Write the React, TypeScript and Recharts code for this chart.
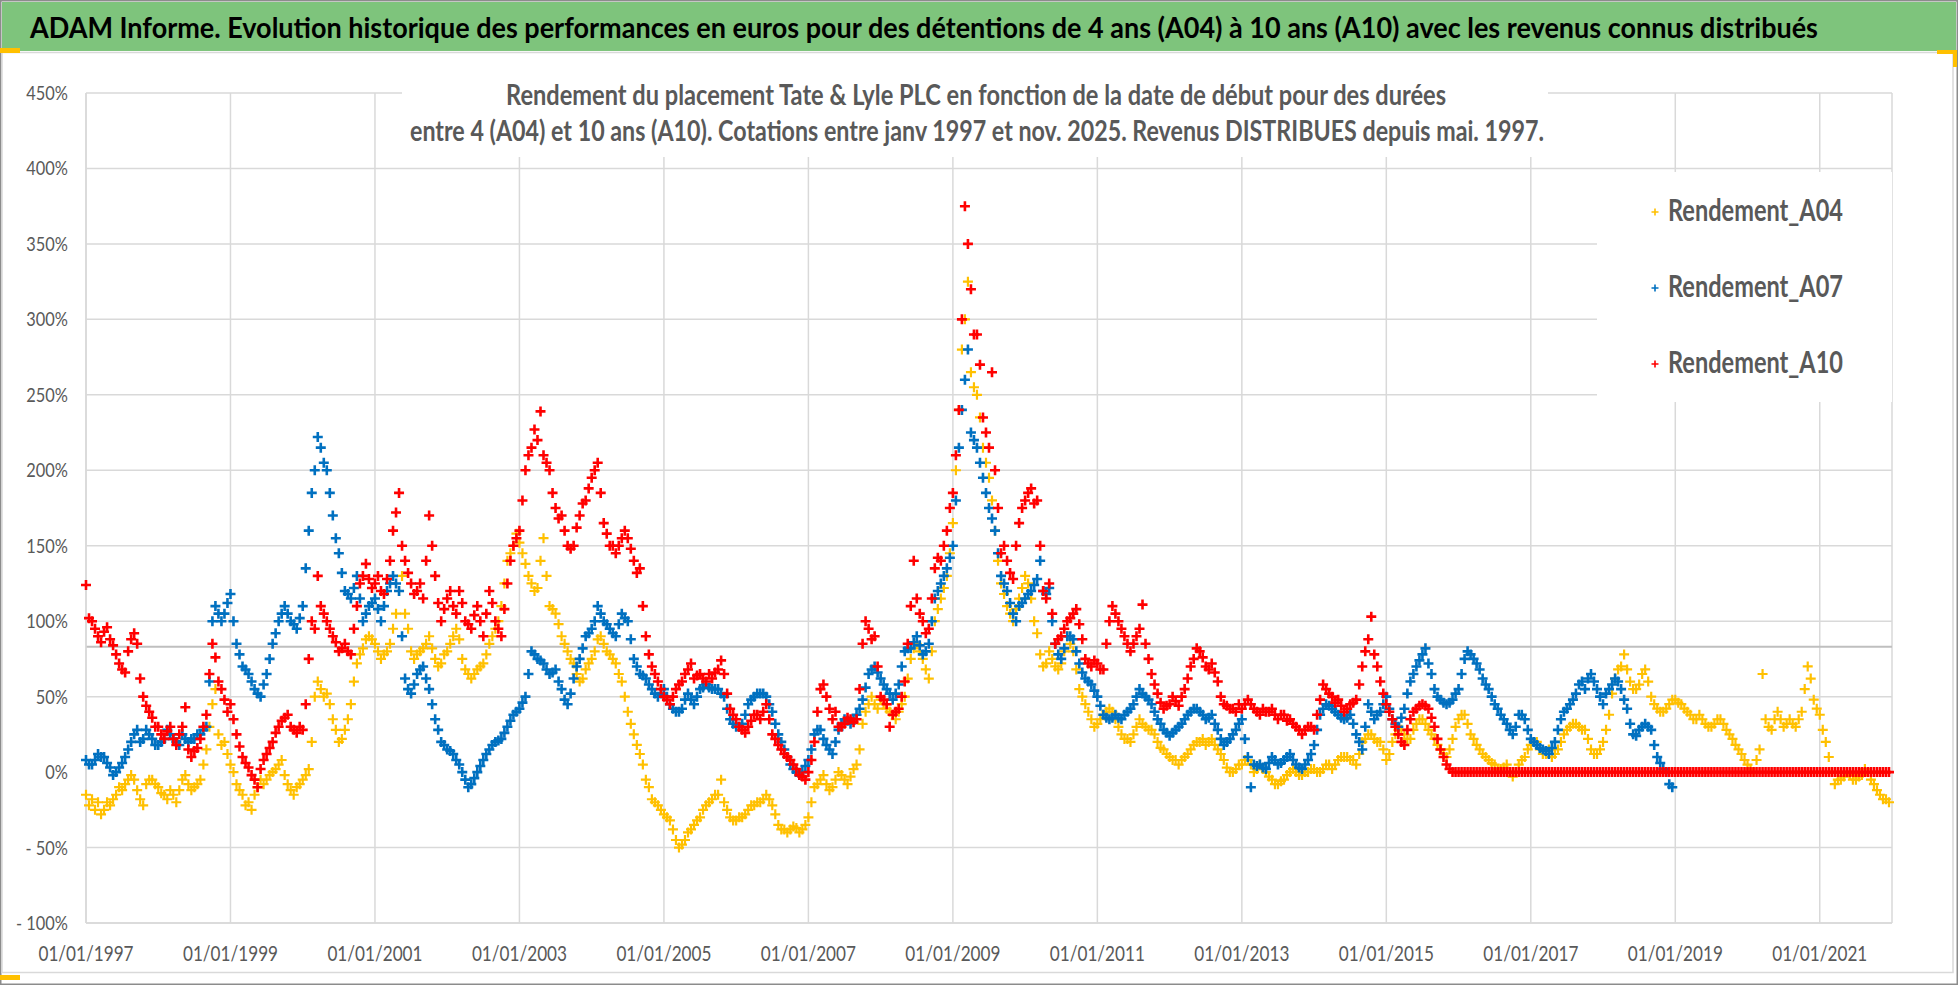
import React from 'react';
import { ScatterChart, Scatter, XAxis, YAxis, CartesianGrid, ReferenceLine, Legend } from 'recharts';

// Readings from 01/1997, one at the start and one in the middle of each month, values in %
const START_YEAR = 1997;
const X_TICKS = [1997, 1999, 2001, 2003, 2005, 2007, 2009, 2011, 2013, 2015, 2017, 2019, 2021];
const Y_TICKS = [-100, -50, 0, 50, 100, 150, 200, 250, 300, 350, 400, 450];
const GRID_VALUES = [-100, -50, 50, 100, 150, 200, 250, 300, 350, 400, 450];
const AXIS_CROSS_VALUE = 83;

const RENDEMENT_A04 = [
  -15, -18, -20, -25, -22, -15, -12, -5, -5, -18, -8, -5,
  -10, -15, -12, -20, -5, -8, -10, -5, 15, 45, 25, 20,
  5, -8, -15, -20, -15, -5, -5, 0, 5, -2, -12, -10,
  -5, 2, 50, 55, 52, 35, 20, 28, 45, 72, 82, 90,
  85, 75, 80, 95, 120, 105, 80, 78, 82, 90, 75, 72,
  80, 90, 88, 68, 62, 68, 72, 85, 95, 110, 140, 150,
  152, 138, 125, 122, 155, 110, 105, 90, 80, 72, 60, 68,
  75, 88, 85, 78, 72, 60, 40, 25, 12, -5, -18, -22,
  -28, -32, -45, -48, -40, -35, -30, -22, -18, -15, -20, -30,
  -32, -30, -25, -22, -20, -15, -22, -35, -38, -38, -37, -38,
  -30, -10, -5, -8, -10, 0, -5, -3, 5, 32, 45, 45,
  48, 42, 38, 40, 50, 75, 85, 75, 62, 100, 115, 130,
  165, 240, 300, 265, 250, 215, 195, 160, 125, 110, 100, 115,
  130, 115, 92, 70, 80, 70, 72, 90, 80, 55, 45, 35,
  32, 38, 42, 35, 25, 22, 25, 35, 30, 28, 20, 15,
  10, 8, 8, 12, 18, 20, 18, 22, 15, 8, 0, 2,
  5, 8, 0, 5, 0, -5, -8, -5, 0, 0, -2, 0,
  2, 0, 5, 2, 8, 10, 8, 5, 20, 25, 22, 20,
  8, 20, 28, 25, 22, 32, 35, 28, 22, 15, 10, 22,
  35, 38, 25, 18, 12, 8, 5, 2, 5, -3, 5, 10,
  18, 20, 12, 15, 12, 20, 28, 32, 30, 28, 15, 12,
  20, 38, 62, 70, 68, 55, 58, 68, 50, 42, 40, 45,
  48, 45, 40, 35, 38, 32, 30, 35, 32, 25, 18, 12,
  5, 0, 15, 35, 28, 40, 30, 35, 30, 40, 70, 48,
  38, 20, 0, -5, -3, -2, -5, -2, 0, -8, -15, -18,
];

const RENDEMENT_A04_MID = [
  -22, -25, -28, -20, -18, -10, -8, -2, -12, -22, -5, -8,
  -14, -18, -15, -12, -2, -12, -8, 5, 30, 55, 18, 12,
  0, -12, -22, -25, -10, -8, -2, 2, 8, -8, -15, -8,
  -2, 20, 60, 50, 45, 28, 22, 35, 60, 78, 88, 88,
  80, 78, 85, 105, 130, 95, 75, 80, 85, 82, 70, 78,
  85, 95, 75, 65, 65, 70, 78, 90, 100, 125, 145, 158,
  145, 130, 120, 140, 130, 108, 98, 85, 75, 65, 62, 72,
  80, 90, 80, 75, 65, 50, 32, 18, 5, -10, -20, -25,
  -30, -38, -50, -45, -38, -32, -25, -20, -15, -5, -25, -32,
  -30, -28, -22, -20, -18, -18, -28, -38, -40, -36, -40, -35,
  -20, -8, -2, -12, -5, -2, -8, 2, 15, 40, 50, 42,
  45, 40, 35, 45, 62, 82, 80, 68, 80, 108, 122, 145,
  200, 280, 325, 255, 235, 205, 180, 140, 118, 105, 108, 122,
  125, 100, 78, 72, 75, 68, 80, 85, 68, 50, 40, 30,
  35, 40, 40, 30, 22, 20, 30, 32, 28, 25, 16, 12,
  8, 5, 10, 15, 20, 22, 20, 18, 12, 3, 0, 5,
  8, 5, 2, 2, -3, -8, -6, -2, 2, -2, 0, 2,
  0, 2, 5, 5, 10, 10, 8, 12, 22, 25, 20, 15,
  12, 25, 28, 22, 28, 35, 32, 25, 18, 12, 15, 30,
  38, 32, 22, 15, 10, 6, 2, 3, 0, 0, 8, 15,
  20, 15, 12, 10, 15, 25, 30, 32, 28, 22, 12, 15,
  28, 52, 68, 78, 60, 55, 65, 60, 45, 40, 42, 48,
  46, 42, 38, 35, 35, 30, 32, 35, 28, 22, 15, 8,
  2, 8, 65, 30, 35, 35, 32, 32, 35, 55, 62, 42,
  28, 10, -8, -5, 0, -5, -3, 2, -5, -12, -18, -20,
];

const RENDEMENT_A07 = [
  8, 5, 12, 10, 3, 0, 6, 15, 25, 20, 28, 22,
  18, 22, 25, 20, 25, 20, 22, 25, 30, 100, 105, 105,
  118, 85, 70, 65, 55, 50, 65, 85, 100, 110, 100, 95,
  110, 160, 200, 215, 200, 170, 145, 120, 115, 130, 100, 110,
  115, 100, 120, 130, 120, 62, 52, 65, 70, 55, 35, 20,
  15, 12, 5, -5, -8, 0, 8, 15, 20, 22, 30, 38,
  42, 50, 80, 75, 72, 65, 68, 55, 45, 62, 75, 90,
  95, 110, 100, 95, 90, 105, 100, 75, 65, 62, 55, 50,
  55, 45, 40, 42, 52, 45, 55, 58, 55, 55, 50, 35,
  30, 32, 45, 50, 52, 50, 40, 25, 15, 5, 0, 0,
  8, 25, 28, 18, 12, 28, 35, 32, 38, 48, 65, 70,
  62, 55, 48, 58, 80, 82, 90, 78, 85, 115, 125, 135,
  150, 215, 260, 225, 215, 195, 175, 160, 130, 120, 105, 110,
  115, 120, 128, 120, 122, 85, 75, 90, 88, 72, 62, 58,
  50, 38, 35, 38, 35, 40, 45, 55, 50, 45, 35, 28,
  24, 28, 32, 38, 42, 40, 35, 38, 28, 18, 22, 28,
  35, 10, 5, 5, 2, 10, 5, 8, 12, 5, 2, 8,
  18, 38, 45, 42, 38, 35, 38, 25, 15, 45, 35, 40,
  50, 35, 30, 42, 60, 70, 78, 72, 55, 48, 45, 48,
  55, 75, 78, 72, 62, 55, 45, 38, 32, 25, 38, 35,
  22, 18, 15, 12, 20, 35, 42, 48, 58, 55, 65, 55,
  45, 55, 62, 55, 42, 25, 28, 32, 28, 10, 2, -8,
];

const RENDEMENT_A07_MID = [
  5, 8, 10, 6, -2, 3, 10, 20, 28, 22, 25, 18,
  20, 28, 22, 18, 22, 22, 25, 28, 60, 110, 100, 112,
  100, 78, 68, 60, 52, 58, 75, 92, 105, 105, 98, 102,
  135, 185, 222, 205, 185, 155, 132, 118, 122, 115, 105, 112,
  108, 110, 125, 125, 90, 55, 58, 68, 62, 45, 28, 18,
  14, 8, 0, -10, -4, 4, 12, 18, 21, 26, 34, 40,
  46, 65, 78, 74, 68, 66, 60, 48, 52, 70, 82, 92,
  100, 105, 98, 92, 98, 102, 88, 70, 64, 58, 52, 52,
  50, 42, 40, 48, 48, 50, 56, 56, 55, 52, 42, 32,
  30, 38, 48, 52, 52, 45, 32, 20, 10, 2, -2, 4,
  15, 28, 22, 15, 20, 32, 34, 35, 42, 56, 68, 66,
  58, 52, 52, 70, 82, 86, 84, 80, 100, 120, 130, 142,
  180, 240, 280, 220, 205, 185, 168, 145, 125, 112, 100, 112,
  118, 124, 140, 118, 100, 78, 82, 90, 80, 66, 60, 54,
  44, 36, 36, 36, 38, 42, 50, 52, 48, 40, 32, 26,
  26, 30, 35, 40, 42, 38, 36, 32, 22, 20, 25, 32,
  22, -10, 4, 3, 6, 8, 6, 10, 8, 3, 5, 12,
  28, 42, 44, 40, 36, 36, 32, 20, 30, 40, 38, 45,
  42, 32, 36, 52, 65, 74, 82, 65, 50, 46, 46, 52,
  65, 80, 75, 68, 58, 50, 42, 35, 28, 30, 38, 28,
  20, 16, 14, 16, 28, 40, 45, 52, 60, 62, 60, 50,
  52, 58, 60, 48, 32, 24, 30, 30, 18, 6, 0, -10,
];

const RENDEMENT_A10 = [
  124, 100, 90, 93, 88, 78, 68, 80, 92, 62, 44, 36,
  30, 22, 30, 18, 30, 15, 14, 22, 38, 85, 60, 48,
  45, 25, 10, 3, -5, 2, 12, 20, 30, 36, 30, 26,
  28, 75, 95, 110, 100, 90, 80, 85, 78, 110, 130, 128,
  125, 120, 128, 160, 185, 140, 125, 120, 115, 170, 130, 100,
  115, 110, 120, 100, 95, 110, 90, 120, 100, 90, 125, 150,
  160, 200, 215, 220, 210, 200, 175, 170, 150, 150, 170, 180,
  195, 205, 165, 150, 145, 155, 155, 140, 135, 90, 70, 60,
  50, 45, 55, 60, 68, 62, 65, 60, 62, 68, 65, 42,
  35, 28, 30, 38, 35, 45, 25, 18, 12, 8, 2, -3,
  0, 20, 55, 50, 35, 30, 32, 35, 35, 85, 95, 90,
  50, 45, 38, 42, 60, 110, 115, 100, 95, 135, 140, 160,
  185, 240, 375, 320, 290, 235, 215, 200, 145, 140, 128, 165,
  180, 188, 180, 120, 125, 85, 90, 100, 105, 98, 75, 70,
  72, 68, 100, 105, 95, 85, 85, 95, 85, 65, 52, 42,
  45, 47, 50, 62, 75, 80, 70, 72, 60, 45, 42, 40,
  42, 48, 42, 38, 40, 42, 35, 38, 35, 30, 25, 30,
  28, 48, 55, 50, 48, 40, 45, 48, 70, 88, 78, 60,
  45, 35, 25, 18, 35, 42, 45, 42, 30, 15, 5, 0,
  0, 0, 0, 0, 0, 0, 0, 0, 0, 0, 0, 0,
  0, 0, 0, 0, 0, 0, 0, 0, 0, 0, 0, 0,
  0, 0, 0, 0, 0, 0, 0, 0, 0, 0, 0, 0,
  0, 0, 0, 0, 0, 0, 0, 0, 0, 0, 0, 0,
  0, 0, 0, 0, 0, 0, 0, 0, 0, 0, 0, 0,
  0, 0, 0, 0, 0, 0, 0, 0, 0, 0, 0, 0,
];

const RENDEMENT_A10_MID = [
  102, 95, 86, 96, 84, 72, 66, 88, 85, 50, 40, 30,
  25, 27, 22, 25, 43, 10, 16, 30, 65, 76, 55, 40,
  35, 17, 6, -2, -10, 8, 16, 26, 34, 38, 28, 30,
  45, 100, 130, 105, 95, 86, 82, 80, 95, 125, 138, 122,
  130, 118, 140, 172, 150, 132, 118, 125, 140, 150, 112, 108,
  120, 105, 112, 98, 104, 100, 105, 112, 95, 108, 140, 155,
  180, 210, 227, 239, 205, 185, 168, 160, 148, 162, 178, 188,
  200, 185, 158, 150, 150, 160, 148, 132, 110, 78, 65, 55,
  48, 50, 58, 65, 72, 64, 62, 65, 66, 74, 52, 38,
  30, 26, 34, 38, 40, 35, 22, 15, 10, 5, -2, -5,
  8, 40, 58, 42, 40, 30, 36, 33, 55, 100, 88, 70,
  48, 30, 40, 50, 85, 140, 105, 92, 115, 142, 150, 175,
  210, 300, 350, 290, 270, 225, 265, 175, 150, 132, 150, 175,
  185, 178, 150, 115, 105, 88, 95, 102, 108, 88, 72, 74,
  68, 85, 110, 100, 90, 80, 90, 111, 75, 58, 46, 44,
  50, 44, 55, 70, 82, 76, 68, 66, 50, 44, 42, 45,
  45, 45, 40, 42, 40, 38, 38, 34, 32, 28, 28, 30,
  38, 58, 52, 46, 44, 42, 46, 58, 80, 103, 70, 52,
  40, 30, 20, 28, 40, 44, 44, 36, 22, 10, 2, 0,
  0, 0, 0, 0, 0, 0, 0, 0, 0, 0, 0, 0,
  0, 0, 0, 0, 0, 0, 0, 0, 0, 0, 0, 0,
  0, 0, 0, 0, 0, 0, 0, 0, 0, 0, 0, 0,
  0, 0, 0, 0, 0, 0, 0, 0, 0, 0, 0, 0,
  0, 0, 0, 0, 0, 0, 0, 0, 0, 0, 0, 0,
  0, 0, 0, 0, 0, 0, 0, 0, 0, 0, 0, 0,
];

const COLOR_A04 = '#FFC000';
const COLOR_A07 = '#0070C0';
const COLOR_A10 = '#FF0000';
const TEXT_GREY = '#595959';
const GRID_GREY = '#d9d9d9';
const FONT = 'Lato, "Open Sans", sans-serif';

const SERIES = [
  { name: 'Rendement_A04', values: RENDEMENT_A04, mid: RENDEMENT_A04_MID, color: COLOR_A04, width: 2.2 },
  { name: 'Rendement_A07', values: RENDEMENT_A07, mid: RENDEMENT_A07_MID, color: COLOR_A07, width: 2.6 },
  { name: 'Rendement_A10', values: RENDEMENT_A10, mid: RENDEMENT_A10_MID, color: COLOR_A10, width: 2.6 },
];

const toPoints = (values: number[], mid: number[]) => [
  ...values.map((v, i) => ({ x: START_YEAR + i / 12, y: v })),
  ...mid.map((v, i) => ({ x: START_YEAR + (i + 0.5) / 12, y: v })),
];

const Cross = ({ cx, cy, color, r = 5, w = 2.6 }: any) => (
  <path d={`M${cx - r},${cy}H${cx + r}M${cx},${cy - r}V${cy + r}`} stroke={color} strokeWidth={w} fill="none" />
);

const YTick = ({ x, y, payload }: any) => {
  const v = payload.value;
  const label = v < 0 ? `- ${-v}%` : `${v}%`;
  return (
    <g transform={`translate(${x},${y}) scale(0.82,1)`}>
      <text x={0} y={0} dy={7} textAnchor="end" fill={TEXT_GREY} fontSize={20} fontFamily={FONT}>{label}</text>
    </g>
  );
};

const XTick = ({ x, y, payload }: any) => (
  <g transform={`translate(${x},${y}) scale(0.78,1)`}>
    <text x={0} y={0} dy={38} textAnchor="middle" fill={TEXT_GREY} fontSize={22} fontFamily={FONT}>{`01/01/${payload.value}`}</text>
  </g>
);

const LegendBox = ({ payload }: any) => (
  <svg width={295} height={230} style={{ display: 'block', background: '#fff' }}>
    {(payload || []).map((entry: any, i: number) => {
      const color = SERIES.find(s => s.name === entry.value)?.color ?? entry.color;
      return (
        <g key={entry.value}>
          <Cross cx={58} cy={40 + i * 76} r={3.5} w={1.6} color={color} />
          <text x={71} y={49 + i * 76} fontSize={30} fontWeight="bold" fill={TEXT_GREY} fontFamily={FONT}
            textLength={175} lengthAdjust="spacingAndGlyphs">{entry.value}</text>
        </g>
      );
    })}
  </svg>
);

export default function App() {
  return (
    <div style={{ position: 'absolute', left: 0, top: 0, width: 1958, height: 985, background: '#fff' }}>
      <ScatterChart width={1958} height={985} margin={{ top: 93, right: 66, bottom: 22, left: 20 }}>
        <CartesianGrid stroke={GRID_GREY} strokeWidth={1.5} horizontalValues={GRID_VALUES} />
        <XAxis type="number" dataKey="x" domain={[1997, 2022]} ticks={X_TICKS} interval={0} height={40}
          axisLine={{ stroke: GRID_GREY, strokeWidth: 1.5 }} tickLine={false} tickSize={0} tickMargin={0} tick={<XTick />} />
        <YAxis type="number" dataKey="y" domain={[-100, 450]} ticks={Y_TICKS} interval={0} width={66}
          axisLine={{ stroke: GRID_GREY, strokeWidth: 1.5 }} tickLine={false} tickSize={0} tickMargin={18} tick={<YTick />} />
        <ReferenceLine y={AXIS_CROSS_VALUE} stroke="#bfbfbf" strokeWidth={2} />
        {SERIES.map(s => (
          <Scatter key={s.name} name={s.name} data={toPoints(s.values, s.mid)} fill={s.color} isAnimationActive={false}
            shape={(p: any) => <Cross cx={p.cx} cy={p.cy} color={s.color} w={s.width} />} />
        ))}
        <Legend layout="horizontal" align="center" verticalAlign="middle" content={<LegendBox />}
          wrapperStyle={{ left: 1597, top: 172, width: 295, height: 230 }} />
      </ScatterChart>

      {/* frame, banner and chart title drawn over the plot like the Excel export */}
      <svg width={1958} height={985} style={{ position: 'absolute', left: 0, top: 0, pointerEvents: 'none' }}>
        <rect x={0.75} y={0.75} width={1956.5} height={983.5} fill="none" stroke="#8c8c8c" strokeWidth={1.5} />
        <rect x={2} y={2} width={1954} height={49} fill="#7ec47c" />
        <rect x={2} y={52.5} width={1951} height={920} fill="none" stroke={GRID_GREY} strokeWidth={1.5} />
        <rect x={0} y={48} width={20} height={5} fill={COLOR_A04} />
        <rect x={0} y={975} width={20} height={5} fill={COLOR_A04} />
        <path d="M1937,52H1955V67" stroke={COLOR_A04} strokeWidth={4} fill="none" />
        <text x={30} y={38} fontSize={28} fontWeight="bold" fill="#000" fontFamily={FONT}
          textLength={1788} lengthAdjust="spacingAndGlyphs">
          ADAM Informe. Evolution historique des performances en euros pour des détentions de 4 ans (A04) à 10 ans (A10) avec les revenus connus distribués
        </text>
        <rect x={402} y={60} width={1146} height={97} fill="#fff" />
        <text x={506} y={105} fontSize={28} fontWeight="bold" fill={TEXT_GREY} fontFamily={FONT}
          textLength={940} lengthAdjust="spacingAndGlyphs">
          Rendement du placement Tate &amp; Lyle PLC en fonction de la date de début pour des durées
        </text>
        <text x={410} y={141} fontSize={28} fontWeight="bold" fill={TEXT_GREY} fontFamily={FONT}
          textLength={1134} lengthAdjust="spacingAndGlyphs">
          entre 4 (A04) et 10 ans (A10). Cotations entre janv 1997 et nov. 2025. Revenus DISTRIBUES depuis mai. 1997.
        </text>
      </svg>
    </div>
  );
}
